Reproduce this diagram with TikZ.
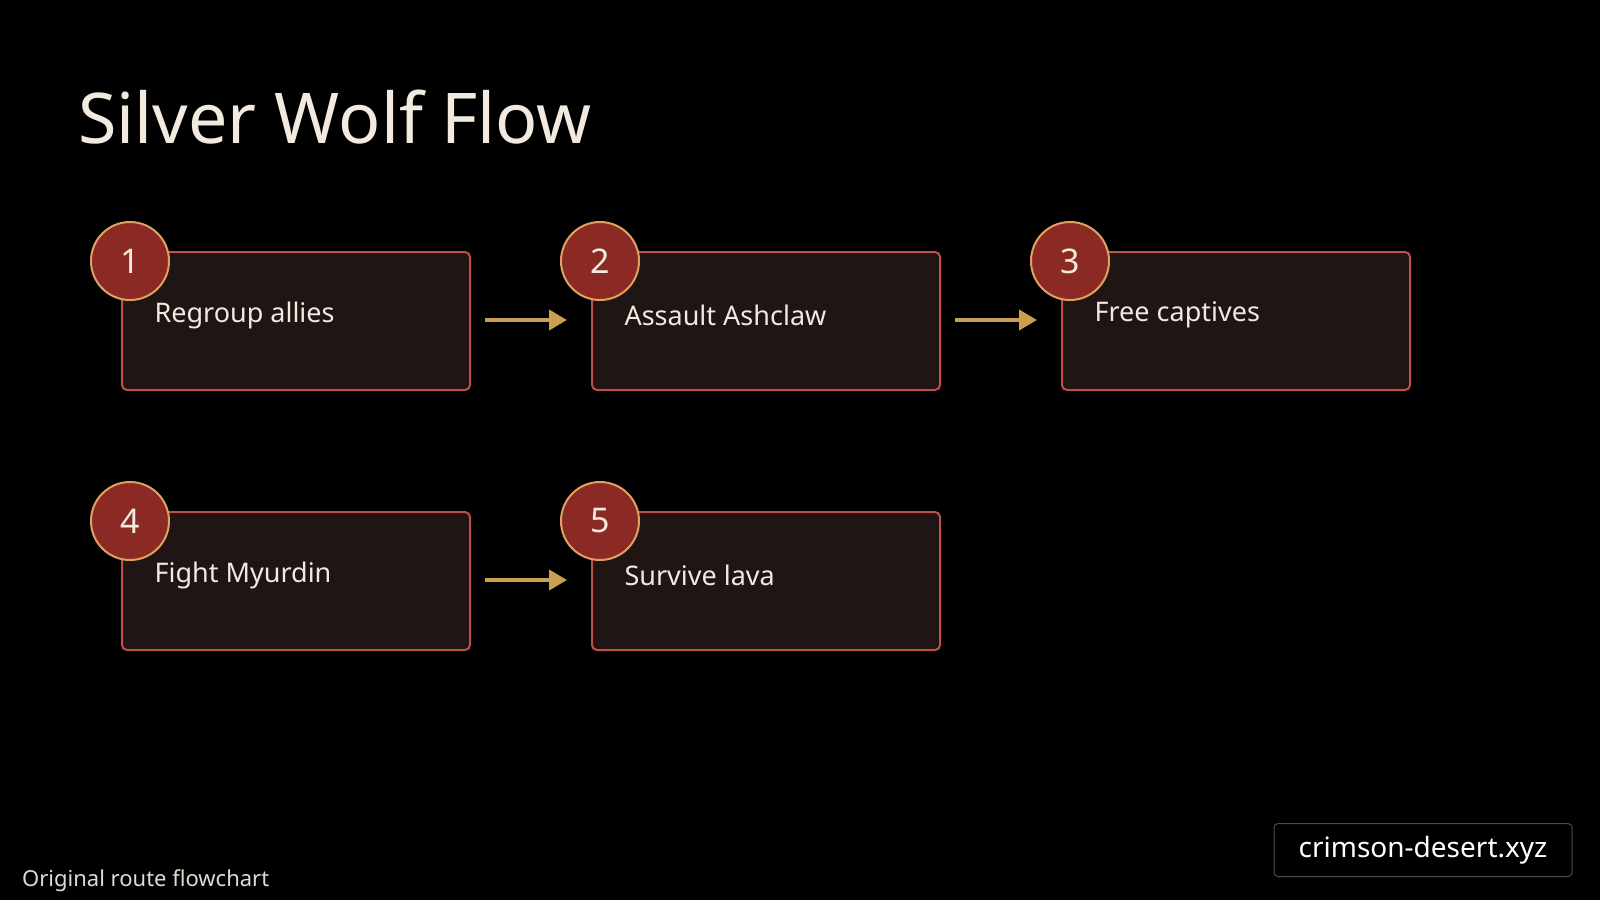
\documentclass[tikz,border=0pt]{standalone}
\usepackage{fontspec}
\setmainfont{Noto Sans}
\usetikzlibrary{arrows.meta}
\definecolor{boxfill}{HTML}{1E1514}
\definecolor{boxline}{HTML}{C0504A}
\definecolor{circfill}{HTML}{8B2A24}
\definecolor{circline}{HTML}{E0A060}
\definecolor{arr}{HTML}{C8A050}
\definecolor{txt}{HTML}{F2EADF}
\begin{document}
\begin{tikzpicture}[x=1pt,y=-1pt,
  stepbox/.style={draw=boxline,line width=2pt,fill=boxfill,rounded corners=5pt,minimum width=348pt,minimum height=138pt,anchor=north west,inner sep=0pt},
  lbl/.style={anchor=west,text=txt,font=\fontsize{27}{30}\selectfont\bfseries},
  num/.style={circle,draw=circline,line width=2pt,fill=circfill,minimum size=78pt,inner sep=0pt,text=txt,font=\fontsize{34}{36}\selectfont\bfseries},
  flow/.style={arr,line width=4pt,-{Triangle[length=18pt,width=20pt]}}]
\fill[black] (0,0) rectangle (1600,900);
\useasboundingbox (0,0) rectangle (1600,900);
\node[anchor=base west,text=txt,font=\fontsize{70}{80}\selectfont\bfseries,inner sep=0pt] (title) at (78,143) {Silver Wolf Flow};
\foreach \n/\x/\y/\t in {1/121/251/Regroup allies,2/591/251/Assault Ashclaw,3/1061/251/Free captives,4/121/511/Fight Myurdin,5/591/511/Survive lava}{
  \node[stepbox] (b\n) at (\x,\y) {};
  \node[lbl] (t\n) at (\x+30,\y+64) {\t};
  \node[num] (c\n) at (\x+9,\y+10) {\n};
}
\coordinate (a1s) at (485,320); \coordinate (a1e) at (567,320);
\coordinate (a2s) at (955,320); \coordinate (a2e) at (1037,320);
\coordinate (a3s) at (485,580); \coordinate (a3e) at (567,580);
\draw[flow] (a1s) -- (a1e);
\draw[flow] (a2s) -- (a2e);
\draw[flow] (a3s) -- (a3e);
\node[anchor=base west,text=txt!85!gray,font=\fontsize{22}{24}\selectfont,inner sep=0pt] (foot) at (22,886) {Original route flowchart};
\node[draw=white!30!black,line width=1pt,fill=black,rounded corners=4pt,minimum width=298pt,minimum height=53pt,text=white,font=\fontsize{28}{30}\selectfont\bfseries] (badge) at (1423,850) {crimson-desert.xyz};
\end{tikzpicture}
\end{document}
